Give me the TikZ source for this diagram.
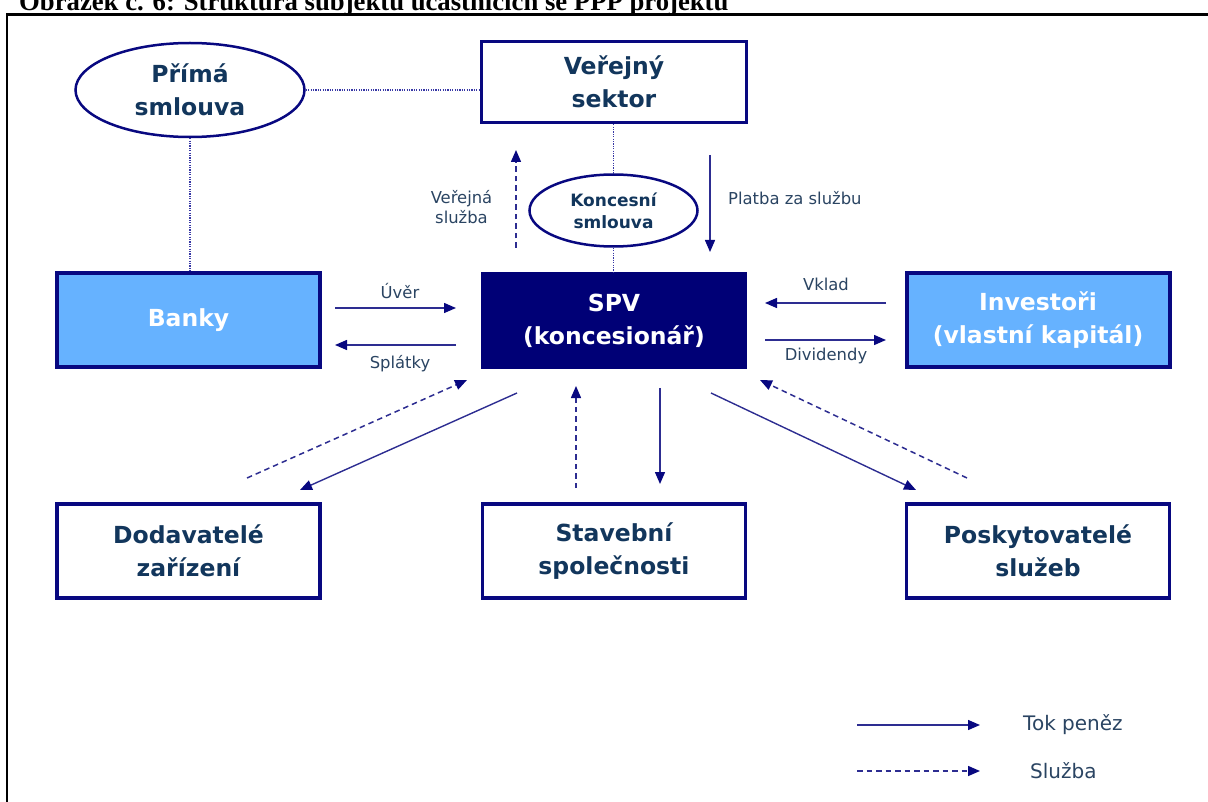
\documentclass[tikz,border=0pt]{standalone}
\usepackage{fontspec}
\setmainfont{DejaVu Sans}
\newfontfamily\titlefont{Liberation Serif}
\usetikzlibrary{arrows.meta,shapes.geometric}

\definecolor{navyline}{RGB}{8,8,128}
\definecolor{flowline}{RGB}{45,45,145}
\definecolor{spvfill}{RGB}{0,0,118}
\definecolor{lightfill}{RGB}{102,178,255}
\definecolor{boxtext}{RGB}{18,54,92}
\definecolor{labeltext}{RGB}{42,68,98}
\definecolor{dotblue}{RGB}{55,55,165}

\tikzset{
  boxfont/.style={font=\bfseries\fontsize{23.5}{33}\selectfont},
  entity/.style={rectangle, inner sep=0pt, align=center, boxfont,
                 minimum width=263pt, minimum height=94pt},
  whitebox/.style={entity, draw=navyline, line width=3.5pt, fill=white, text=boxtext},
  lightbox/.style={entity, draw=navyline, line width=4pt, fill=lightfill, text=white},
  spvbox/.style={entity, fill=spvfill, text=white, minimum width=266pt, minimum height=97pt},
  oval/.style={ellipse, draw=navyline, line width=2.5pt, inner sep=0pt, align=center,
               boxfont, text=boxtext},
  lbl/.style={inner sep=0pt, align=center, text=labeltext, font=\fontsize{16.4}{20}\selectfont},
  legendtext/.style={inner sep=0pt, anchor=west, text=labeltext, font=\fontsize{20}{24}\selectfont},
  tip/.style={-{Triangle[length=12pt,width=10pt,color=navyline]}},
  money/.style={tip, draw=flowline, line width=1.4pt},
  service/.style={tip, draw=flowline, line width=1.5pt, dash pattern=on 5.5pt off 4pt},
  contract/.style={draw=dotblue, line width=1.3pt, dash pattern=on 1.2pt off 1.2pt},
}

\begin{document}
\begin{tikzpicture}[x=1pt,y=-1pt]
\useasboundingbox (0,0) rectangle (1208,802);

% caption (its upper part lies above the page edge)
\node[anchor=base west, inner sep=0pt, font=\titlefont\bfseries\fontsize{26.7}{30}\selectfont] (caption)
  at (19,11) {Obrázek č. 6: Struktura subjektů účastnících se PPP projektu};

% outer frame
\draw[black, line width=2.8pt] (7,830) -- (7,14.8) -- (1230,14.8);

% entities
\node[whitebox, minimum width=265pt, minimum height=81pt] (verejny) at (614,82) {Veřejný\\sektor};
\node[lightbox] (banky) at (188.5,320) {Banky};
\node[spvbox] (spv) at (614,320.5) {SPV\\(koncesionář)};
\node[lightbox] (investori) at (1038,320) {Investoři\\(vlastní kapitál)};
\node[whitebox] (dodavatele) at (188.5,551) {Dodavatelé\\zařízení};
\node[whitebox] (stavebni) at (614,551) {Stavební\\společnosti};
\node[whitebox] (poskytovatele) at (1038,551) {Poskytovatelé\\služeb};

% contracts
\node[oval, minimum width=229pt, minimum height=94pt] (prima) at (190,90) {Přímá\\smlouva};
\node[oval, minimum width=168pt, minimum height=72pt,
      font=\bfseries\fontsize{17}{22}\selectfont] (koncesni) at (613.5,210.5) {Koncesní\\smlouva};

% contract links
\draw[contract] (prima.east) -- (prima.east -| verejny.west);
\draw[contract] (prima.south) -- (prima.south |- banky.north);
\draw[contract] (verejny.south -| koncesni.north) -- (koncesni.north);
\draw[contract] (koncesni.south) -- (koncesni.south |- spv.north);

% flows between public sector and SPV
\coordinate (svcA) at (516,248);
\coordinate (svcB) at (516,150);
\coordinate (payA) at (710,155);
\coordinate (payB) at (710,252);
\draw[service] (svcA) -- (svcB);
\draw[money] (payA) -- (payB);
\node[lbl] (lverejna) at (461.5,207) {Veřejná\\služba};
\node[lbl, anchor=west] (lplatba) at (728,198) {Platba za službu};

% banks
\coordinate (uvA) at (335,308);
\coordinate (uvB) at (456,308);
\coordinate (spA) at (456,345);
\coordinate (spB) at (335,345);
\draw[money] (uvA) -- (uvB);
\draw[money] (spA) -- (spB);
\node[lbl] (luver) at (400,291) {Úvěr};
\node[lbl] (lsplatky) at (400,364) {Splátky};

% investors
\coordinate (vkA) at (886,303);
\coordinate (vkB) at (765,303);
\coordinate (dvA) at (765,340);
\coordinate (dvB) at (886,340);
\draw[money] (vkA) -- (vkB);
\draw[money] (dvA) -- (dvB);
\node[lbl] (lvklad) at (826,284) {Vklad};
\node[lbl] (ldividendy) at (826,356) {Dividendy};

% suppliers, builders, service providers
\coordinate (d1A) at (247,478);
\coordinate (d1B) at (467,380);
\coordinate (d2A) at (517,393);
\coordinate (d2B) at (300,490);
\coordinate (s1A) at (576,488);
\coordinate (s1B) at (576,386);
\coordinate (s2A) at (660,388);
\coordinate (s2B) at (660,484);
\coordinate (p1A) at (711,393);
\coordinate (p1B) at (916,490);
\coordinate (p2A) at (967,478);
\coordinate (p2B) at (760,380);
\draw[service] (d1A) -- (d1B);
\draw[money] (d2A) -- (d2B);
\draw[service] (s1A) -- (s1B);
\draw[money] (s2A) -- (s2B);
\draw[money] (p1A) -- (p1B);
\draw[service] (p2A) -- (p2B);

% legend
\coordinate (lgmA) at (857,725);
\coordinate (lgmB) at (980,725);
\coordinate (lgsA) at (857,771);
\coordinate (lgsB) at (980,771);
\draw[money] (lgmA) -- (lgmB);
\draw[service] (lgsA) -- (lgsB);
\node[legendtext] (lgm) at (1023,725) {Tok peněz};
\node[legendtext] (lgs) at (1030,771) {Služba};
\end{tikzpicture}
\end{document}
